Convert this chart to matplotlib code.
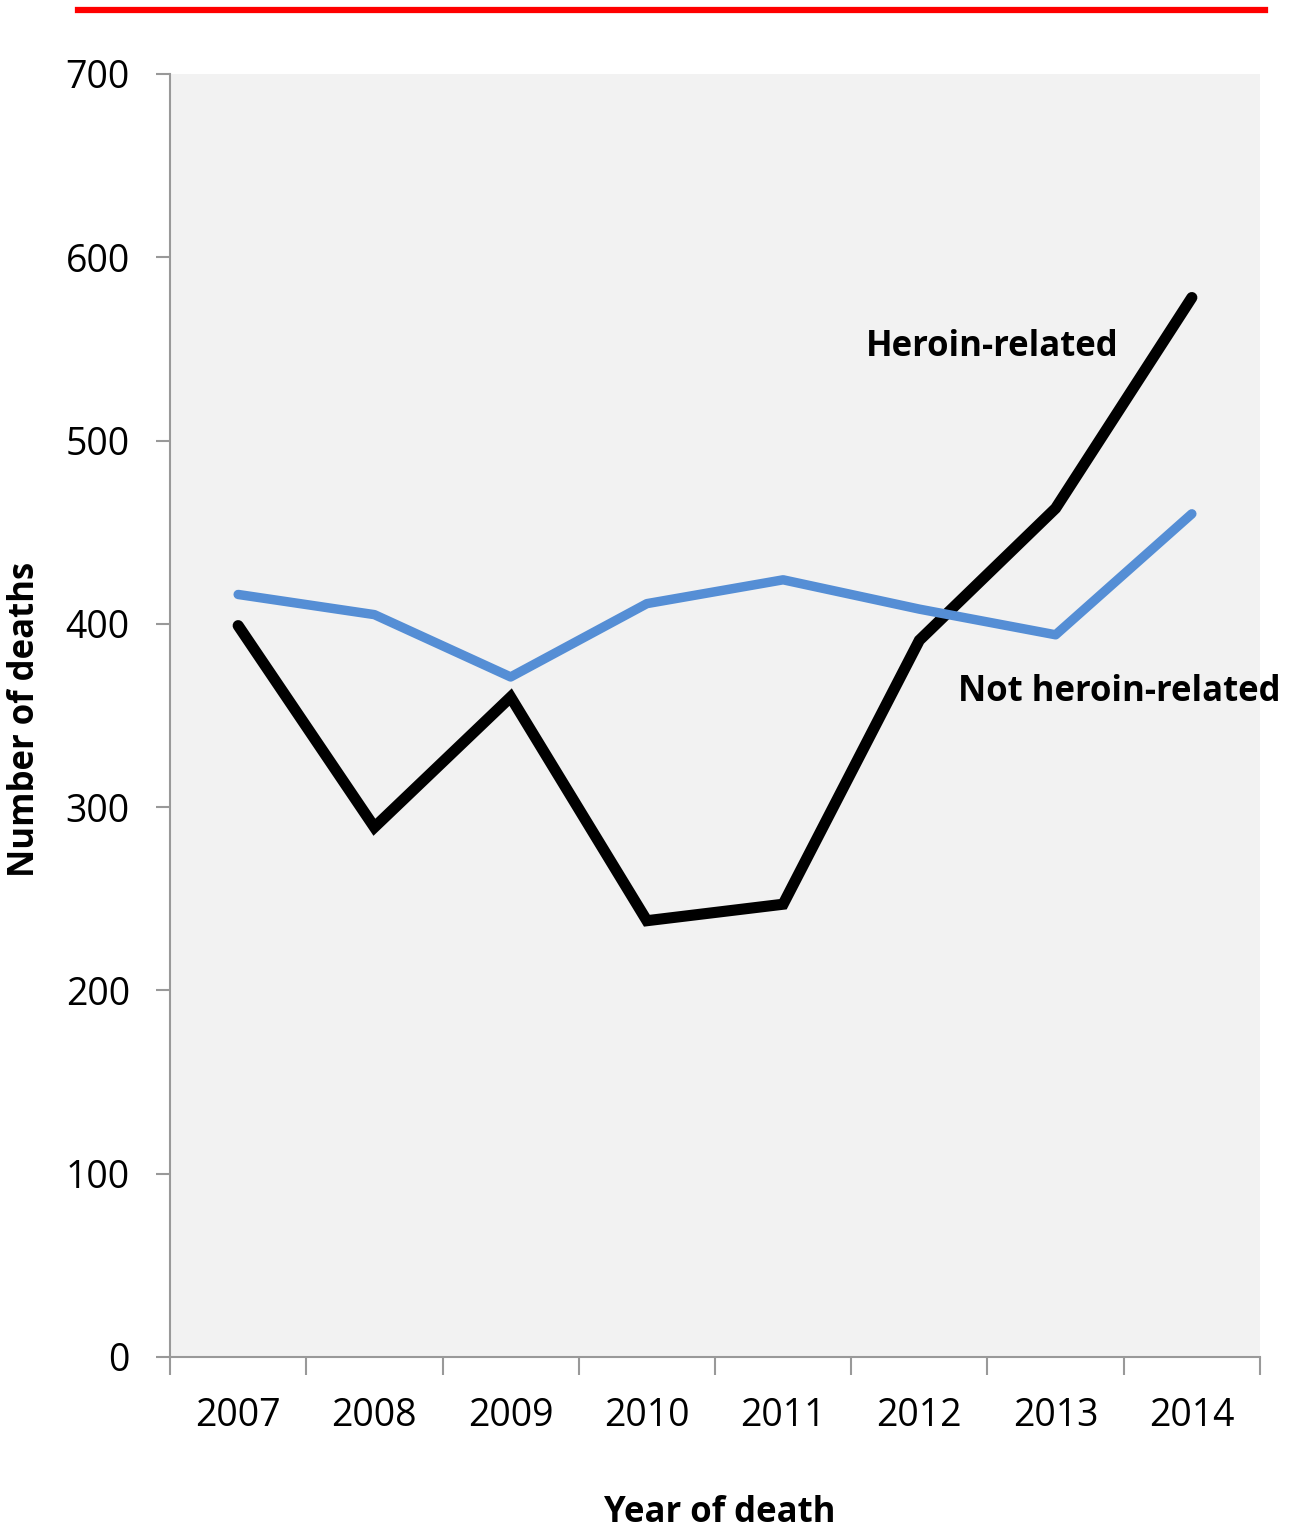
import matplotlib.pyplot as plt
from matplotlib.lines import Line2D
import numpy as np

plt.rcParams['font.family'] = ['Open Sans', 'DejaVu Sans']

years = ['2007', '2008', '2009', '2010', '2011', '2012', '2013', '2014']
heroin = [399, 289, 360, 238, 247, 391, 463, 578]
not_heroin = [416, 405, 371, 411, 424, 408, 394, 460]

fig = plt.figure(figsize=(13, 15.31), dpi=100)
ax = fig.add_axes([0.1308, 0.1137, 0.8384, 0.838])
ax.set_facecolor('#f2f2f2')

x = np.arange(len(years))
ax.plot(x, heroin, color='black', lw=8, solid_joinstyle='miter', solid_capstyle='round', zorder=2)
ax.plot(x, not_heroin, color='#558ed5', lw=6.8, solid_capstyle='round', zorder=3)

ax.set_xlim(-0.5, len(years) - 0.5)
ax.set_ylim(0, 700)
ax.set_yticks(range(0, 701, 100))
ax.set_xticks(x)
ax.set_xticklabels(years)
ax.set_xticks(np.arange(-0.5, len(years)), minor=True)
ax.tick_params(axis='x', which='major', length=0, labelsize=27, pad=29)
ax.tick_params(axis='x', which='minor', length=13, width=1.5, color='#999999')
ax.tick_params(axis='y', length=10, width=1.5, color='#999999', labelsize=27, pad=19)

for side in ['top', 'right']:
    ax.spines[side].set_visible(False)
for side in ['left', 'bottom']:
    ax.spines[side].set_color('#999999')
    ax.spines[side].set_linewidth(1.5)

ax.text(4.608, 551, 'Heroin-related', fontsize=25, fontweight='bold', va='center', ha='left')
ax.text(5.284, 363, 'Not heroin-related', fontsize=25, fontweight='bold', va='center', ha='left', clip_on=False)

fig.text(0.554, 1 - 1513 / 1531, 'Year of death', fontsize=25, fontweight='bold', ha='center', va='center')
fig.text(25 / 1300, 1 - 719 / 1531, 'Number of deaths', fontsize=25, fontweight='bold', ha='center', va='center', rotation=90)

fig.add_artist(Line2D([78 / 1300, 1265 / 1300], [1 - 10 / 1531, 1 - 10 / 1531], color='red', lw=4.5))

fig.savefig('out.png', dpi=100)
